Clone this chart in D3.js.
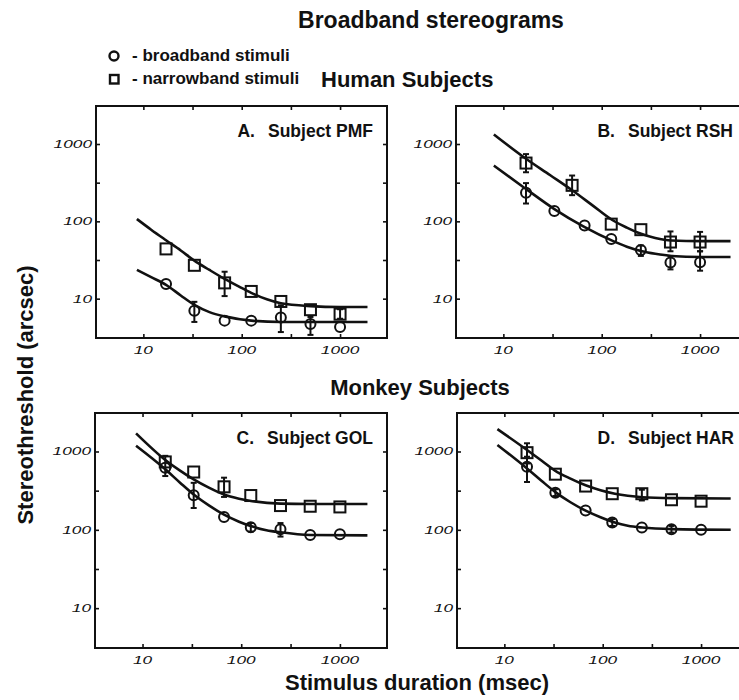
<!DOCTYPE html>
<html>
<head>
<meta charset="utf-8">
<script src="https://cdn.jsdelivr.net/npm/d3@7"></script>
<style>
  html, body { margin: 0; padding: 0; background: #fff; }
  svg { display: block; font-family: "Liberation Sans", Arial, sans-serif; }
</style>
</head>
<body>
<svg id="chart" width="739" height="700"></svg>
<script>
// ---------------- data ----------------
const durations = [17, 33, 67, 125, 250, 500, 1000];
const durationsRSHNarrow = [17, 50, 125, 250, 500, 1000];
const xTickValues = [10, 31.62, 100, 316.2, 1000];
const yTickValues = [10, 31.62, 100, 316.2, 1000];
const xTickLabels = ["10", "100", "1000"];
const yTickLabels = ["10", "100", "1000"];

// Panel A  Subject PMF
const pmfBroad = [15.5, 7.0, 5.2, 5.2, 5.7, 4.7, 4.3];
const pmfBroadErr = [null, [5.0, 9.1], null, null, [3.7, 8.2], [3.4, 5.8], null];
const pmfNarrow = [44, 27, 16, 12.4, 9.2, 7.2, 6.3];
const pmfNarrowErr = [null, null, [10.8, 22.3], null, null, null, [5.5, 7.3]];
const pmfFitNarrowT = [8.6, 12, 17, 24, 33, 47, 67, 95, 125, 180, 250, 500, 1000, 1900];
const pmfFitNarrowV = [107, 78, 57, 42, 31, 23.5, 18, 14.2, 11.9, 9.8, 8.7, 8.0, 7.8, 7.8];
const pmfFitBroadT = [8.6, 12, 17, 24, 33, 47, 67, 125, 250, 1900];
const pmfFitBroadV = [23.6, 19, 15.1, 11, 8.3, 6.7, 5.9, 5.2, 5.0, 5.0];

// Panel B  Subject RSH
const rshBroad = [235, 136, 88.5, 59, 42.5, 29.3, 29.6];
const rshBroadErr = [[170, 312], null, null, null, [35.7, 48.7], [23.9, 35.7], [23, 41]];
const rshNarrow = [567, 292, 92, 78, 54, 54];
const rshNarrowErr = [[431, 740], [218, 391], null, null, [41, 74], [41, 73]];
const rshFitNarrowT = [8, 16.3, 30, 50, 80, 128, 180, 251, 350, 510, 1020, 2040];
const rshFitNarrowV = [1330, 670, 394, 252, 162, 104, 83, 69, 61, 56.5, 55.4, 55.4];
const rshFitBroadT = [8, 16.3, 33, 65, 131, 180, 257, 350, 510, 1020, 2040];
const rshFitBroadV = [525, 272, 144, 86, 55.4, 47, 41, 38, 35.7, 34.6, 34.6];

// Panel C  Subject GOL
const golBroad = [622, 277, 146, 108, 102, 86, 88];
const golBroadErr = [[486, 880], [190, 398], null, [95, 122], [82, 122], null, null];
const golNarrow = [736, 547, 354, 274, 204, 200, 196];
const golNarrowErr = [null, null, [263, 463], null, null, null, null];
const golFitNarrowT = [8.6, 17, 24, 33, 47, 67, 95, 130, 250, 500, 1900];
const golFitNarrowV = [1706, 781, 570, 440, 345, 282, 250, 232, 216, 214, 214];
const golFitBroadT = [8.6, 17, 24, 33, 47, 67, 95, 130, 180, 250, 500, 1900];
const golFitBroadV = [1183, 593, 400, 282, 205, 156, 127, 110, 99, 93, 86, 85];

// Panel D  Subject HAR
const harBroad = [637, 297, 176, 124, 107, 102, 100];
const harBroadErr = [[408, 857], [270, 330], null, [112, 137], null, [92, 112], null];
const harNarrow = [966, 513, 362, 289, 289, 242, 232];
const harNarrowErr = [[703, 1273], null, null, null, [237, 325], null, null];
const harFitNarrowT = [8.5, 17, 24, 33, 47, 67, 95, 133, 180, 252, 511, 2000];
const harFitNarrowV = [1932, 1045, 760, 566, 450, 370, 320, 289, 272, 261, 254, 251];
const harFitBroadT = [8.5, 17, 24, 33, 47, 67, 95, 133, 180, 252, 511, 2000];
const harFitBroadV = [1213, 607, 420, 303, 225, 176, 145, 124, 113, 107, 102, 100];

const panelLetters = ["A.", "B.", "C.", "D."];
const panelSubjects = ["Subject PMF", "Subject RSH", "Subject GOL", "Subject HAR"];

// ---------------- drawing ----------------
const svg = d3.select("#chart");
const ink = "#111";

const panels = [
  { idx: 0, box: [96, 387, 106, 338],
    broadT: durations, broad: pmfBroad, broadErr: pmfBroadErr,
    narrowT: durations, narrow: pmfNarrow, narrowErr: pmfNarrowErr,
    fits: [[pmfFitNarrowT, pmfFitNarrowV], [pmfFitBroadT, pmfFitBroadV]] },
  { idx: 1, box: [456, 747, 106, 338],
    broadT: durations, broad: rshBroad, broadErr: rshBroadErr,
    narrowT: durationsRSHNarrow, narrow: rshNarrow, narrowErr: rshNarrowErr,
    fits: [[rshFitNarrowT, rshFitNarrowV], [rshFitBroadT, rshFitBroadV]] },
  { idx: 2, box: [95, 387, 413, 648],
    broadT: durations, broad: golBroad, broadErr: golBroadErr,
    narrowT: durations, narrow: golNarrow, narrowErr: golNarrowErr,
    fits: [[golFitNarrowT, golFitNarrowV], [golFitBroadT, golFitBroadV]] },
  { idx: 3, box: [457, 748, 413, 648],
    broadT: durations, broad: harBroad, broadErr: harBroadErr,
    narrowT: durations, narrow: harNarrow, narrowErr: harNarrowErr,
    fits: [[harFitNarrowT, harFitNarrowV], [harFitBroadT, harFitBroadV]] }
];

const charW = 9.6;

panels.forEach(p => {
  const [x0, x1, y0, y1] = p.box;
  const x = d3.scaleLog().domain([3.3, 3000]).range([x0, x1]);
  const y = d3.scaleLog().domain([3.1, 3100]).range([y1, y0]);
  const g = svg.append("g");

  // frame
  g.append("rect").attr("x", x0).attr("y", y0).attr("width", x1 - x0).attr("height", y1 - y0)
    .attr("fill", "none").attr("stroke", ink).attr("stroke-width", 2);

  // ticks on all four sides (inward)
  const axB = d3.axisBottom(x).tickValues(xTickValues).tickSize(-4).tickFormat("");
  const axT = d3.axisTop(x).tickValues(xTickValues).tickSize(-4).tickFormat("");
  const axL = d3.axisLeft(y).tickValues(yTickValues).tickSize(-4).tickFormat("");
  const axR = d3.axisRight(y).tickValues(yTickValues).tickSize(-4).tickFormat("");
  [[axB, `translate(0,${y1})`], [axT, `translate(0,${y0})`], [axL, `translate(${x0},0)`], [axR, `translate(${x1},0)`]]
    .forEach(([ax, tr]) => {
      const a = g.append("g").attr("transform", tr).call(ax);
      a.select(".domain").remove();
      a.selectAll("line").attr("stroke", ink).attr("stroke-width", 1.6);
    });

  // tick labels
  g.selectAll(".xl").data(xTickLabels).enter().append("text")
    .attr("x", d => x(+d)).attr("y", y1 + 16)
    .attr("text-anchor", "middle").attr("font-style", "italic").attr("font-size", 11.5)
    .attr("textLength", d => d.length * charW).attr("lengthAdjust", "spacingAndGlyphs")
    .attr("fill", ink).text(d => d);
  g.selectAll(".yl").data(yTickLabels).enter().append("text")
    .attr("x", x0 - 4).attr("y", d => y(+d) + 4)
    .attr("text-anchor", "end").attr("font-style", "italic").attr("font-size", 11.5)
    .attr("textLength", d => d.length * charW).attr("lengthAdjust", "spacingAndGlyphs")
    .attr("fill", ink).text(d => d);

  // panel title
  const subj = g.append("text").attr("x", x1 - 14).attr("y", y0 + 31).attr("text-anchor", "end")
    .attr("font-weight", "bold").attr("font-size", 17.5)
    .attr("fill", ink).text(panelSubjects[p.idx]);
  const sx = subj.node().getBBox().x;
  g.append("text").attr("x", sx - 13).attr("y", y0 + 31).attr("text-anchor", "end")
    .attr("font-weight", "bold").attr("font-size", 17.5)
    .attr("fill", ink).text(panelLetters[p.idx]);

  // fitted curves
  const line = d3.line().x(d => x(d[0])).y(d => y(d[1])).curve(d3.curveMonotoneX);
  p.fits.forEach(([ts, vs]) => {
    g.append("path").datum(ts.map((t, i) => [t, vs[i]]))
      .attr("d", line).attr("fill", "none").attr("stroke", ink).attr("stroke-width", 2.6);
  });

  // error bars
  const drawErr = (ts, errs) => {
    errs.forEach((e, i) => {
      if (!e) return;
      const cx = x(ts[i]);
      g.append("line").attr("x1", cx).attr("x2", cx).attr("y1", y(e[0])).attr("y2", y(e[1]))
        .attr("stroke", ink).attr("stroke-width", 2);
      [e[0], e[1]].forEach(v => {
        g.append("line").attr("x1", cx - 3).attr("x2", cx + 3).attr("y1", y(v)).attr("y2", y(v))
          .attr("stroke", ink).attr("stroke-width", 2);
      });
    });
  };
  drawErr(p.broadT, p.broadErr);
  drawErr(p.narrowT, p.narrowErr);

  // markers
  g.selectAll(".sq").data(p.narrow).enter().append("rect")
    .attr("x", (d, i) => x(p.narrowT[i]) - 5.5).attr("y", d => y(d) - 5.5)
    .attr("width", 11).attr("height", 11)
    .attr("fill", "none").attr("stroke", ink).attr("stroke-width", 2);
  g.selectAll(".ci").data(p.broad).enter().append("circle")
    .attr("cx", (d, i) => x(p.broadT[i])).attr("cy", d => y(d)).attr("r", 5)
    .attr("fill", "none").attr("stroke", ink).attr("stroke-width", 2);
});

// titles and labels
svg.append("text").attr("x", 431).attr("y", 28).attr("text-anchor", "middle")
  .attr("font-weight", "bold").attr("font-size", 23).attr("fill", ink).text("Broadband stereograms");

svg.append("circle").attr("cx", 114).attr("cy", 56).attr("r", 4.5)
  .attr("fill", "none").attr("stroke", ink).attr("stroke-width", 2.4);
svg.append("text").attr("x", 132).attr("y", 61).attr("font-weight", "bold").attr("font-size", 17)
  .attr("fill", ink).text("- broadband stimuli");
svg.append("rect").attr("x", 110).attr("y", 75).attr("width", 8.5).attr("height", 8.5)
  .attr("fill", "none").attr("stroke", ink).attr("stroke-width", 2.4);
svg.append("text").attr("x", 132).attr("y", 84).attr("font-weight", "bold").attr("font-size", 17)
  .attr("fill", ink).text("- narrowband stimuli");

svg.append("text").attr("x", 321).attr("y", 87).attr("font-weight", "bold").attr("font-size", 22)
  .attr("fill", ink).text("Human Subjects");
svg.append("text").attr("x", 420).attr("y", 395).attr("text-anchor", "middle").attr("font-weight", "bold")
  .attr("font-size", 22).attr("fill", ink).text("Monkey Subjects");

svg.append("text").attr("x", 417).attr("y", 690).attr("text-anchor", "middle").attr("font-weight", "bold")
  .attr("font-size", 22).attr("fill", ink).text("Stimulus duration (msec)");
svg.append("text").attr("transform", "translate(33,395) rotate(-90)").attr("text-anchor", "middle")
  .attr("font-weight", "bold").attr("font-size", 22).attr("fill", ink).text("Stereothreshold (arcsec)");
</script>
</body>
</html>
